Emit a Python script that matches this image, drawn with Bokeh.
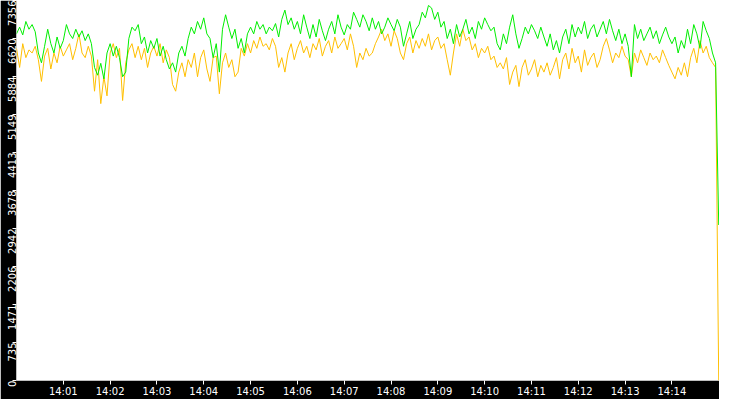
import math
import pandas as pd
from bokeh.plotting import figure
from bokeh.models import FixedTicker, Range1d, DatetimeTickFormatter
from bokeh.embed import file_html
from bokeh.resources import INLINE

start = pd.Timestamp("2024-01-01 14:00:00")
step_seconds = 4

green = [6710, 6840, 6690, 6950, 6800, 6890, 6750, 6340, 6150, 6470,
         6800, 6520, 6340, 6650, 6430, 6580, 6890, 6710, 6620, 6800,
         6650, 6770, 6580, 6710, 6520, 6060, 5910, 6140, 5840, 6340,
         6520, 6280, 6470, 6250, 5880, 5970, 6620, 6840, 6770, 6890,
         6520, 6650, 6340, 6580, 6430, 6620, 6280, 6470, 6210, 6030,
         6150, 5970, 6340, 6470, 6280, 6620, 6840, 6710, 6950, 6800,
         7020, 6710, 6620, 6250, 6520, 5970, 6800, 7080, 6840, 6620,
         6800, 6430, 6620, 6340, 6710, 6840, 6710, 6950, 6800, 6890,
         6710, 6840, 6770, 6910, 6650, 6990, 7170, 6890, 7020, 6800,
         6950, 6710, 7080, 6840, 6620, 6890, 6650, 6990, 6770, 6580,
         6800, 6950, 6710, 7080, 6840, 6690, 6890, 6800, 7130, 6990,
         6840, 7080, 6950, 6770, 7020, 6800, 6950, 6710, 6840, 7020,
         6890, 6770, 6990, 6840, 6470, 6710, 6950, 6620, 6800, 6890,
         7130, 7020, 7260, 7210, 6990, 7130, 6840, 6950, 6620, 6800,
         6520, 6890, 6650, 6800, 6990, 6710, 6840, 6620, 6950, 6800,
         7020, 6890, 6770, 6840, 6520, 6400, 6710, 6520, 6840, 7080,
         6710, 6430, 6620, 6840, 6710, 6890, 6770, 6620, 6840, 6650,
         6470, 6710, 6400, 6580, 6340, 6650, 6800, 6520, 6890, 6650,
         6840, 6710, 6950, 6620, 6800, 6890, 6650, 6800, 6950, 6710,
         6990, 6770, 6580, 6800, 6520, 6710, 6470, 5880, 6890, 6620,
         6800, 6580, 6710, 6840, 6620, 6770, 6520, 6690, 6840, 6650,
         6520, 6650, 6340, 6580, 6430, 6800, 6520, 6890, 6710, 6430,
         6950, 6770, 6620, 6340, 6150, 3010]

orange = [6430, 6060, 6520, 6250, 6400, 6340, 6470, 6210, 5790, 6280,
          6430, 6030, 6340, 6150, 6470, 6280, 6400, 6520, 6210, 6430,
          6710, 6340, 6250, 6470, 6280, 5600, 6210, 5360, 5880, 5510,
          6340, 6520, 6250, 6430, 5420, 6150, 6400, 6520, 6250, 6470,
          6210, 6430, 6060, 6340, 6470, 6280, 6520, 6150, 6400, 6250,
          5730, 5600, 5970, 6150, 5880, 6210, 6060, 6340, 5880, 6250,
          6400, 6030, 5790, 6250, 6280, 5550, 6150, 6340, 6060, 6210,
          5880, 5970, 6430, 6280, 6520, 6340, 6580, 6430, 6650, 6470,
          6520, 6400, 6620, 6470, 6060, 6250, 5970, 6340, 6520, 6210,
          6430, 6580, 6340, 6470, 6250, 6520, 6400, 6620, 6280, 6470,
          6580, 6340, 6650, 6430, 6520, 6620, 6400, 6710, 6470, 6060,
          6340, 6210, 6430, 6280, 6340, 6520, 6650, 6800, 6580, 6710,
          6470, 6770, 6620, 6340, 6210, 6520, 6650, 6340, 6580, 6430,
          6620, 6470, 6710, 6400, 6580, 6650, 6430, 6520, 6210, 5910,
          6340, 6710, 6470, 6800, 6580, 6650, 6400, 6520, 6250, 6430,
          6340, 6470, 6210, 6280, 6060, 6150, 6030, 6250, 5730, 5970,
          6100, 5690, 6060, 6210, 5910, 6030, 6210, 5880, 6100, 5970,
          6150, 5910, 6060, 6250, 5840, 6210, 6340, 6030, 6430, 6150,
          6280, 5970, 6400, 6100, 6250, 6340, 6060, 6210, 6470, 6620,
          6400, 6150, 6340, 6250, 6470, 6280, 6210, 5880, 6340, 6150,
          6400, 6250, 6100, 6340, 6210, 6280, 6150, 6400, 6250, 6100,
          5970, 5840, 6060, 5910, 6150, 5880, 6250, 6430, 6150, 6580,
          6340, 6470, 6250, 6150, 6060, 0]

y_max = 7356
y_tick_labels = ["0", "735", "1471", "2206", "2942", "3678", "4413",
                 "5149", "5884", "6620", "7356"]
x_tick_minutes = list(range(1, 15))

times = [start + pd.Timedelta(seconds=step_seconds * i) for i in range(len(green))]

p = figure(width=719, height=399, output_backend="svg", toolbar_location=None,
           x_axis_type="datetime",
           x_range=Range1d(start, start + pd.Timedelta(seconds=901)),
           y_range=Range1d(0, y_max),
           min_border_left=0, min_border_right=0, min_border_top=0, min_border_bottom=0)

p.background_fill_color = "white"
p.border_fill_color = "black"
p.outline_line_color = None
p.grid.visible = False

p.line(times, orange, color="#ffbf00", line_width=1)
p.line(times, green, color="#00ee00", line_width=1)

yticks = [y_max * k / 10 for k in range(11)]
p.yaxis.ticker = FixedTicker(ticks=yticks)
p.yaxis.major_label_overrides = {t: lab for t, lab in zip(yticks, y_tick_labels)}
p.yaxis.major_label_orientation = math.pi / 2

xticks = [(start + pd.Timedelta(minutes=m)).value / 1e6 for m in x_tick_minutes]
p.xaxis.ticker = FixedTicker(ticks=xticks)
p.xaxis.formatter = DatetimeTickFormatter(minutes="%H:%M", hours="%H:%M",
                                          minsec="%H:%M", seconds="%H:%M")

for ax in (p.xaxis[0], p.yaxis[0]):
    ax.axis_line_color = None
    ax.major_tick_line_color = "white"
    ax.major_tick_in = 0
    ax.major_tick_out = 4
    ax.minor_tick_line_color = None
    ax.major_label_text_color = "white"
    ax.major_label_text_font = "DejaVu Sans"
    ax.major_label_text_font_size = "10px"
    ax.major_label_standoff = 1

open("out.html", "w").write(file_html(p, INLINE))
